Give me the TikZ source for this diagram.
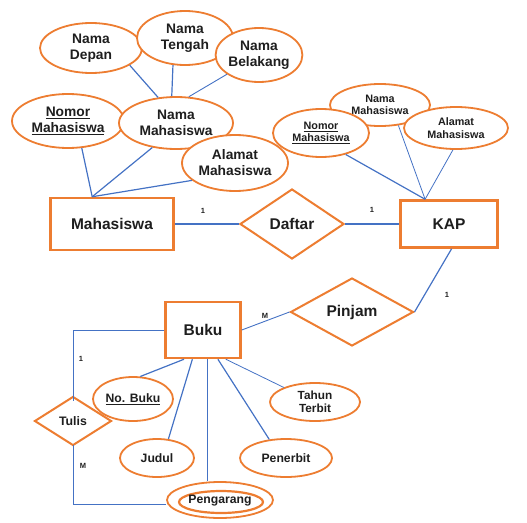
\documentclass[tikz,border=0pt]{standalone}
\usepackage{fontspec}
\setmainfont{Liberation Sans}
\usetikzlibrary{shapes.geometric}
\definecolor{erorange}{RGB}{237,125,49}
\definecolor{erblue}{RGB}{68,114,196}
\definecolor{ertext}{RGB}{30,30,30}
\tikzset{
  attr/.style={ellipse, draw=erorange, line width=1.8pt, fill=white, inner sep=0pt, align=center, text=ertext, font=\fontsize{13.8}{16}\selectfont\bfseries},
  attrsmall/.style={attr, font=\fontsize{10.8}{12.5}\selectfont\bfseries},
  attrbot/.style={attr, font=\fontsize{12.2}{14}\selectfont\bfseries},
  entity/.style={rectangle, draw=erorange, line width=2.5pt, fill=white, inner sep=0pt, text=ertext, font=\fontsize{15.5}{17}\selectfont\bfseries},
  rel/.style={diamond, draw=erorange, line width=2pt, fill=white, inner sep=0pt, text=ertext, font=\fontsize{15.5}{17}\selectfont\bfseries},
  conn/.style={draw=erblue, line width=1.2pt},
  card/.style={text=ertext, font=\fontsize{7.5}{8}\selectfont\bfseries, inner sep=0pt}
}
\begin{document}
\begin{tikzpicture}[x=1pt,y=-1pt]
\useasboundingbox (0,0) rectangle (527,522);
% left attributes
\node[attr, minimum width=102, minimum height=50] (nd) at (91,48) {Nama\\Depan};
\node[attr, minimum width=96, minimum height=54] (nt) at (185,38) {Nama\\Tengah};
\node[attr, minimum width=86, minimum height=54] (nb) at (259,55) {Nama\\Belakang};
\node[attr, minimum width=112, minimum height=54] (nomL) at (68,121) {\underline{Nomor}\\\underline{Mahasiswa}};
\node[attr, minimum width=114, minimum height=52] (nmL) at (176,123) {Nama\\Mahasiswa};
\node[attr, minimum width=106, minimum height=56] (alL) at (235,163) {Alamat\\Mahasiswa};
% right attributes
\node[attrsmall, minimum width=100, minimum height=42] (nmR) at (380,105) {Nama\\Mahasiswa};
\node[attrsmall, minimum width=96, minimum height=48] (nomR) at (321,133) {\underline{Nomor}\\\underline{Mahasiswa}};
\node[attrsmall, minimum width=104, minimum height=42] (alR) at (456,128) {Alamat\\Mahasiswa};
% entities and relations
\node[entity, minimum width=123, minimum height=52] (mhs) at (112,224) {Mahasiswa};
\node[rel, minimum width=104, minimum height=70] (daftar) at (292,224) {Daftar};
\node[entity, minimum width=97, minimum height=47] (kap) at (449,224) {KAP};
\node[rel, minimum width=123, minimum height=68] (pinjam) at (352,312) {Pinjam};
\node[entity, minimum width=75, minimum height=56] (buku) at (203,330) {Buku};
\node[rel, minimum width=77, minimum height=49, font=\fontsize{12.3}{14}\selectfont\bfseries] (tulis) at (73,421) {Tulis};
% bottom attributes
\node[attrbot, minimum width=80, minimum height=44] (nobuku) at (133,399) {\underline{No. Buku}};
\node[attrbot, minimum width=90, minimum height=38, font=\fontsize{11.8}{13.5}\selectfont\bfseries] (tahun) at (315,402) {Tahun\\Terbit};
\node[attrbot, minimum width=74, minimum height=38] (judul) at (157,458) {Judul};
\node[attrbot, minimum width=92, minimum height=38] (penerbit) at (286,458) {Penerbit};
\node[attrbot, minimum width=106, minimum height=36] (peng) at (220,500) {};
\node[attrbot, minimum width=84, minimum height=22, line width=2.2pt] (pengin) at (221,502) {};
\node[text=ertext, font=\fontsize{12.2}{14}\selectfont\bfseries, inner sep=0pt] (pengtxt) at (220,501) {Pengarang};
% connectors left attributes
\draw[conn] (nd.-24) -- (nmL.125);
\draw[conn] (nt.-114) -- (nmL.99);
\draw[conn, line width=0.9pt] (nb.-149) -- (nmL.64);
\draw[conn] (nomL.-63) -- (mhs.126);
\draw[conn] (nmL.-134) -- (mhs.126);
\draw[conn] (alL.-158) -- (mhs.126);
% right attributes
\draw[conn] (nomR.-41) -- (kap.134);
\draw[conn, line width=0.8pt] (nmR.-48) -- (kap.134);
\draw[conn, line width=0.8pt] (alR.-98) -- (kap.134);
% relations
\draw[conn] (mhs.east) -- (daftar.west);
\draw[conn] (daftar.east) -- (kap.west);
\draw[conn] (kap.-84) -- (pinjam.east);
\draw[conn, line width=0.9pt] (buku.east) -- (pinjam.west);
\draw[conn, line width=0.9pt] (buku.west) -| ([yshift=-5pt]tulis.north);
\draw[conn, line width=0.9pt] ([yshift=2pt]tulis.south) |- ([yshift=-4pt]peng.west);
% buku attributes
\draw[conn] (buku.-123) -- (nobuku.72);
\draw[conn] (buku.-110) -- (judul.59);
\draw[conn, line width=0.8pt] (buku.-82) -- (buku.-82 |- peng.north);
\draw[conn] (buku.-63) -- (penerbit.132);
\draw[conn, line width=0.8pt] (buku.-52) -- (tahun.155);
% cardinalities
\node[card] (c1) at (203,211) {1};
\node[card] (c2) at (372,210) {1};
\node[card] (c3) at (447,295) {1};
\node[card] (c4) at (265,316) {M};
\node[card] (c5) at (81,359) {1};
\node[card] (c6) at (83,466) {M};
\end{tikzpicture}
\end{document}
